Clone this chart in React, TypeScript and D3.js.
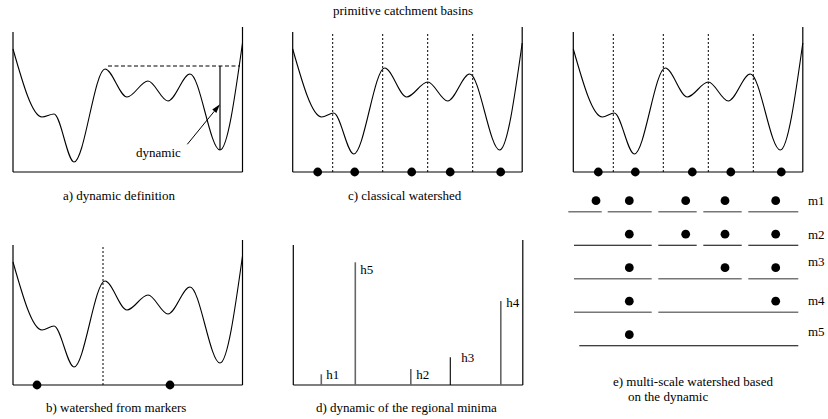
import React from "react";
import * as d3 from "d3";

// profile of the topographic curve (x from left wall, height above floor)
const curveX = [0, 29, 41, 61, 92, 114, 135, 155, 177, 207, 229.5];
const curveHeightA = [123, 55, 58, 10, 103, 75, 91, 71, 98, 22, 129];
const curveHeight = [123, 55, 59, 18, 104, 75, 90, 71, 98, 22, 129];

const basinMinimaX = [25, 62, 119, 157.5, 208];
const dividesX = [40, 90, 135, 180];
const markersX = [24, 157];
const markerDivideX = 90;

const dynamicLabels = ["h1", "h5", "h2", "h3", "h4"];
const dynamicX = [28, 62, 117.5, 157, 207.5];
const dynamicH = [10.7, 122.7, 16, 27.7, 84];
const dynamicGray = [true, true, true, false, true];

const levelLabels = ["m1", "m2", "m3", "m4", "m5"];
const levelDotX = [22.7, 56, 112.4, 151.7, 202.4];
const levelDots = [
  [0, 1, 2, 3, 4],
  [1, 2, 3, 4],
  [1, 3, 4],
  [1, 4],
  [1],
];
const levelSegments: [number, number][][] = [
  [[-5, 28.4], [34.4, 78.4], [85, 123.4], [130, 168.4], [175, 225]],
  [[0.7, 78.4], [85, 123.4], [130, 168.4], [175, 225]],
  [[0.7, 78.4], [85, 168.4], [175, 225]],
  [[0.7, 78.4], [85, 225]],
  [[6, 225]],
];
const levelGray = [true, false, true, true, false];

const FONT = "Liberation Serif, DejaVu Serif, serif";

type Panel = { L: number; B: number };
const mk = (p: Panel) => ({
  x: d3.scaleLinear().domain([0, 230]).range([p.L, p.L + 230]),
  y: d3.scaleLinear().domain([0, 145]).range([p.B, p.B - 145]),
});

function Frame({ x, y }: any) {
  return (
    <g stroke="#000" strokeWidth={1.2} fill="none">
      <line x1={x(0)} x2={x(0)} y1={y(0)} y2={y(140)} />
      <line x1={x(229.5)} x2={x(229.5)} y1={y(0)} y2={y(145)} />
      <line x1={x(0)} x2={x(229.5)} y1={y(0)} y2={y(0)} />
    </g>
  );
}

function Curve({ x, y, h }: any) {
  const line = d3
    .line<number>()
    .x((_, i) => x(curveX[i]))
    .y((d) => y(d))
    .curve(d3.curveMonotoneX);
  return <path d={line(h) || ""} fill="none" stroke="#000" strokeWidth={1.1} />;
}

function T({ x, y, children }: any) {
  return (
    <text x={x} y={y} style={{ fontFamily: FONT, fontSize: "13px", fill: "#000" }}>
      {children}
    </text>
  );
}

export default function App() {
  const A = mk({ L: 13, B: 172 });
  const C = mk({ L: 292.7, B: 172 });
  const E = mk({ L: 573.3, B: 172 });
  const Bp = mk({ L: 13, B: 385 });
  const D = mk({ L: 293.3, B: 385 });

  // arrow in panel a
  const ax1 = A.x(174.3), ay1 = A.y(27.7), ax2 = A.x(207), ay2 = A.y(67.7);
  const ang = Math.atan2(ay2 - ay1, ax2 - ax1);
  const hl = 9, hw = 2.6;
  const bx = ax2 - hl * Math.cos(ang), by = ay2 - hl * Math.sin(ang);
  const head = [
    [ax2, ay2],
    [bx + hw * Math.sin(ang), by - hw * Math.cos(ang)],
    [bx - hw * Math.sin(ang), by + hw * Math.cos(ang)],
  ]
    .map((p) => p.join(","))
    .join(" ");

  const rowY = d3.scaleLinear().domain([0, 4]).range([211.7, 345.7]);
  const labelOffset = [6.7, 6, 13, 7, 9.7];

  return (
    <svg width={828} height={419} style={{ display: "block", position: "absolute", left: 0, top: 0, background: "#fff" }}>
      <T x={333} y={15}>primitive catchment basins</T>

      {/* panel a */}
      <Frame {...A} />
      <Curve {...A} h={curveHeightA} />
      <line x1={A.x(95)} x2={A.x(227)} y1={A.y(106)} y2={A.y(106)} stroke="#000" strokeWidth={1.1} strokeDasharray="4,2.5" />
      <line x1={A.x(207)} x2={A.x(207)} y1={A.y(106)} y2={A.y(22)} stroke="#000" strokeWidth={1.2} />
      <line x1={ax1} y1={ay1} x2={bx} y2={by} stroke="#000" strokeWidth={1} />
      <polygon points={head} fill="#000" />
      <T x={A.x(123)} y={A.y(15)}>dynamic</T>
      <T x={63} y={200}>a) dynamic definition</T>

      {/* panel c */}
      <Frame {...C} />
      <Curve {...C} h={curveHeight} />
      {dividesX.map((d, i) => (
        <line key={i} x1={C.x(d)} x2={C.x(d)} y1={C.y(0)} y2={C.y(140)} stroke="#000" strokeWidth={1} strokeDasharray="2,2" />
      ))}
      {basinMinimaX.map((d, i) => (
        <circle key={i} cx={C.x(d)} cy={C.y(0)} r={4.4} fill="#000" />
      ))}
      <T x={348} y={200}>c) classical watershed</T>

      {/* panel e top */}
      <Frame {...E} />
      <Curve {...E} h={curveHeight} />
      {dividesX.map((d, i) => (
        <line key={i} x1={E.x(d)} x2={E.x(d)} y1={E.y(0)} y2={E.y(140)} stroke="#000" strokeWidth={1} strokeDasharray="2,2" />
      ))}
      {basinMinimaX.map((d, i) => (
        <circle key={i} cx={E.x(d)} cy={E.y(0)} r={4.4} fill="#000" />
      ))}
      {/* levels */}
      {levelLabels.map((lab, li) => (
        <g key={lab}>
          {levelSegments[li].map((s, si) => (
            <line key={si} x1={E.x(s[0])} x2={E.x(s[1])} y1={rowY(li)} y2={rowY(li)}
              stroke={levelGray[li] ? "#777" : "#000"} strokeWidth={levelGray[li] ? 1.6 : 1.1} />
          ))}
          {levelDots[li].map((k) => (
            <circle key={k} cx={E.x(levelDotX[k])} cy={rowY(li) - 11} r={4.4} fill="#000" />
          ))}
          <T x={808} y={rowY(li) - labelOffset[li]}>{lab}</T>
        </g>
      ))}
      <T x={613} y={386}>e) multi-scale watershed based</T>
      <T x={628} y={401}>on the dynamic</T>

      {/* panel b */}
      <Frame {...Bp} />
      <Curve {...Bp} h={curveHeight} />
      <line x1={Bp.x(markerDivideX)} x2={Bp.x(markerDivideX)} y1={Bp.y(0)} y2={Bp.y(140)} stroke="#000" strokeWidth={1} strokeDasharray="2,2" />
      {markersX.map((d, i) => (
        <circle key={i} cx={Bp.x(d)} cy={Bp.y(0)} r={4.4} fill="#000" />
      ))}
      <T x={46} y={412}>b) watershed from markers</T>

      {/* panel d */}
      <Frame {...D} />
      {dynamicX.map((d, i) => (
        <line key={i} x1={D.x(d)} x2={D.x(d)} y1={D.y(0)} y2={D.y(dynamicH[i])}
          stroke={dynamicGray[i] ? "#666" : "#000"} strokeWidth={dynamicGray[i] ? 1.6 : 1.1} />
      ))}
      {dynamicLabels.map((lab, i) => {
        const pos = [[33, 6], [67, 111], [123, 6], [168, 23], [213, 78]][i];
        return <T key={lab} x={D.x(pos[0])} y={D.y(pos[1])}>{lab}</T>;
      })}
      <T x={316} y={412}>d) dynamic of the regional minima</T>
    </svg>
  );
}
